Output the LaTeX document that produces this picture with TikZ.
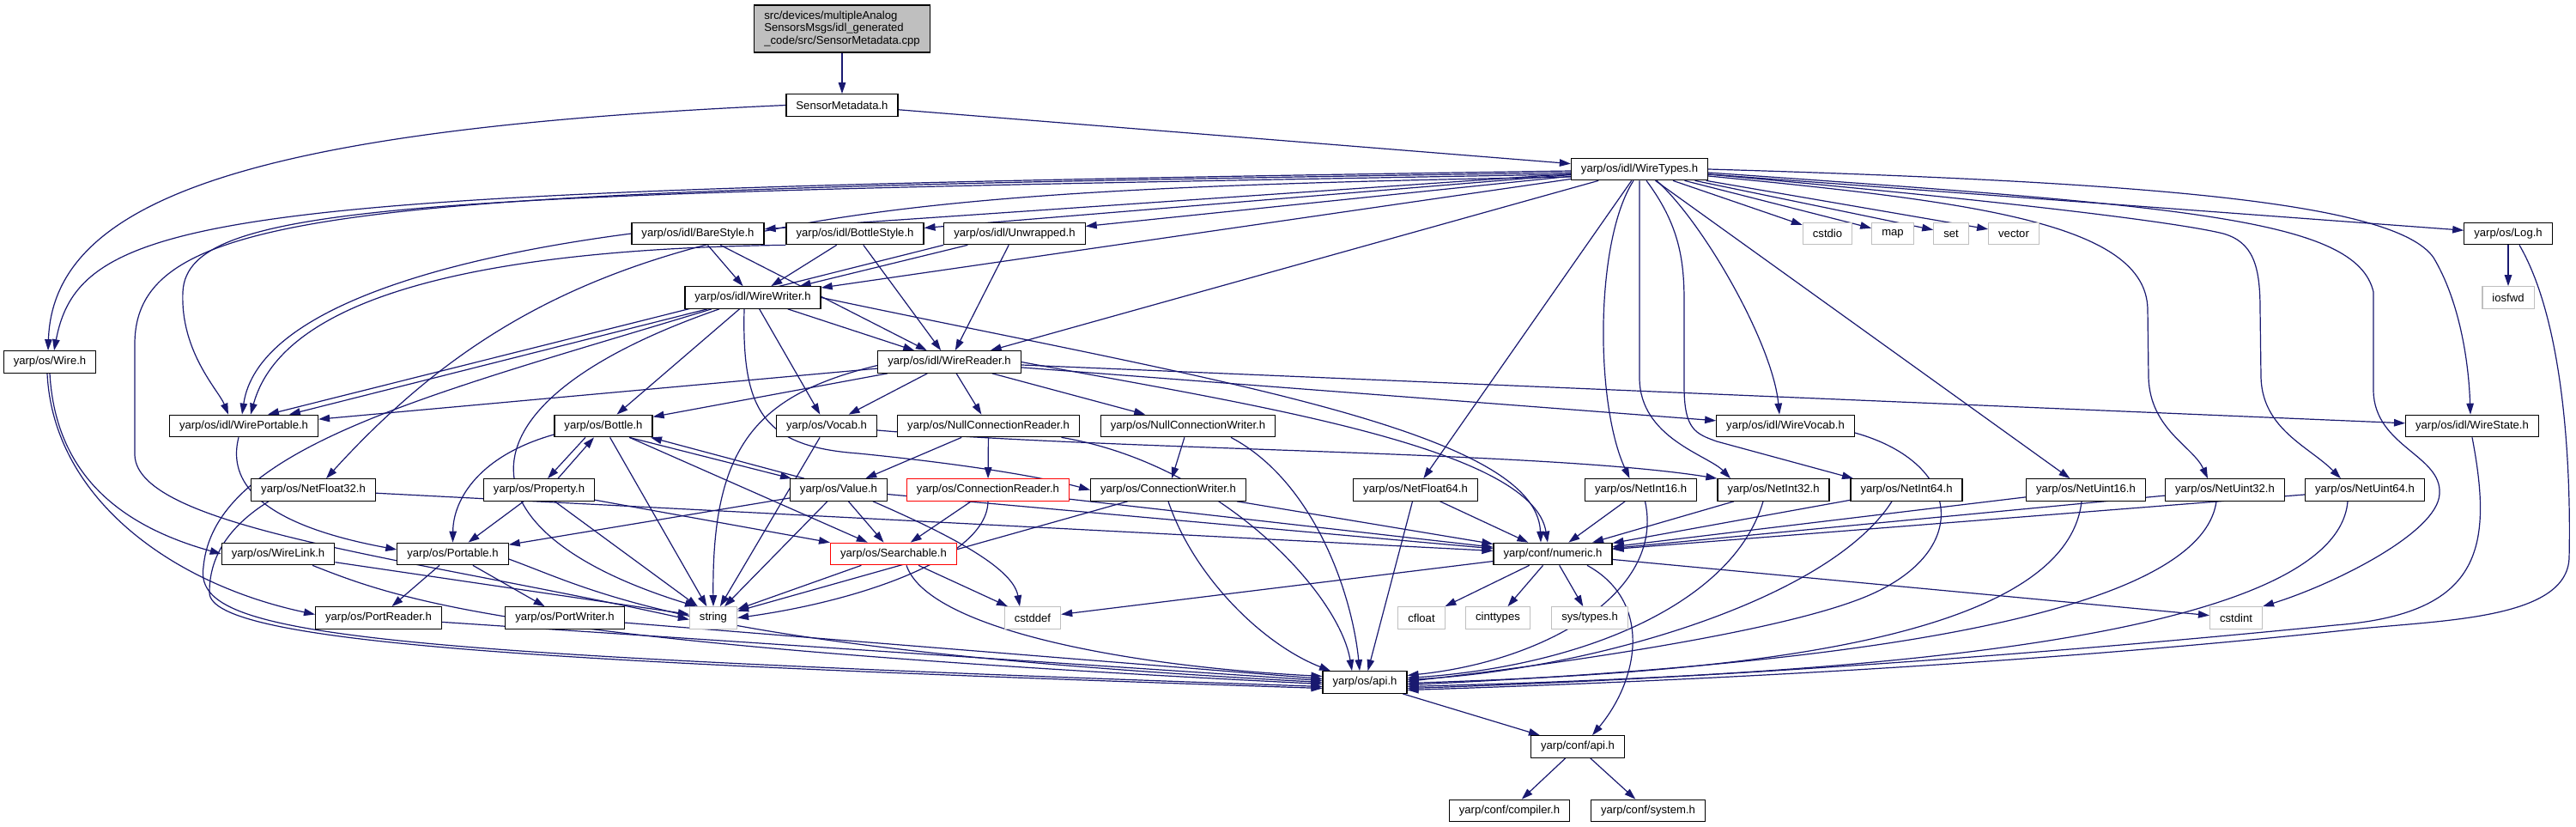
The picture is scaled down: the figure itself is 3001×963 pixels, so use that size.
\documentclass[tikz,border=0pt]{standalone}
\usepackage{fontspec}
\newfontfamily\nodefont{Liberation Sans}
\usetikzlibrary{arrows.meta}
\definecolor{edgecol}{HTML}{191970}
\definecolor{sysgray}{HTML}{BFBFBF}
\definecolor{rootfill}{HTML}{BFBFBF}
\definecolor{redline}{HTML}{FF0000}
\pgfdeclarelayer{back}
\pgfdeclarelayer{edges}
\pgfsetlayers{back,edges,main}
\tikzset{
 box/.style={draw=black, line width=1.2pt, fill=white, minimum height=25.5pt, inner xsep=11.5pt, inner ysep=0pt, font=\nodefont\fontsize{13.1}{14.3}\selectfont, text=black},
 sysbox/.style={box, draw=sysgray},
 redbox/.style={box, draw=redline},
 rootbox/.style={box, fill=rootfill, align=left, minimum height=55pt, inner ysep=4pt},
 dep/.style={draw=edgecol, line width=1.2pt, -{Triangle[length=13pt,width=8.5pt]}},
}
\begin{document}
\begin{tikzpicture}[x=1pt,y=-1pt]
\begin{pgfonlayer}{back}
\fill[white] (0,0) rectangle (3001,963);
\end{pgfonlayer}
\useasboundingbox (0,0) rectangle (3001,963);
% ---------- nodes
\node[rootbox] (root) at (981,33.5) {src/devices/multipleAnalog\\SensorsMsgs/idl\_generated\\\_code/src/SensorMetadata.cpp};
\node[box] (smh) at (981,122.5) {SensorMetadata.h};
\node[box] (wt) at (1910,197) {yarp/os/idl/WireTypes.h};
\node[box] (bare) at (813,272) {yarp/os/idl/BareStyle.h};
\node[box] (bst) at (996,272) {yarp/os/idl/BottleStyle.h};
\node[box] (unwr) at (1182,272) {yarp/os/idl/Unwrapped.h};
\node[sysbox] (cstdio) at (2129,272) {cstdio};
\node[sysbox] (map) at (2205,272) {map};
\node[sysbox] (set) at (2273,272) {set};
\node[sysbox] (vector) at (2346,272) {vector};
\node[box] (log) at (2922,272) {yarp/os/Log.h};
\node[box] (ww) at (877,346.5) {yarp/os/idl/WireWriter.h};
\node[sysbox] (iosfwd) at (2922,346.5) {iosfwd};
\node[box] (wire) at (58,421.5) {yarp/os/Wire.h};
\node[box] (wr) at (1106,421.5) {yarp/os/idl/WireReader.h};
\node[box] (wp) at (284,496) {yarp/os/idl/WirePortable.h};
\node[box] (bottle) at (703,496) {yarp/os/Bottle.h};
\node[box] (vocab) at (963,496) {yarp/os/Vocab.h};
\node[box] (ncr) at (1151.5,496) {yarp/os/NullConnectionReader.h};
\node[box] (ncw) at (1384,496) {yarp/os/NullConnectionWriter.h};
\node[box] (wvocab) at (2080,496) {yarp/os/idl/WireVocab.h};
\node[box] (wstate) at (2880,496) {yarp/os/idl/WireState.h};
\node[box] (nf32) at (365,570.5) {yarp/os/NetFloat32.h};
\node[box] (prop) at (628,570.5) {yarp/os/Property.h};
\node[box] (value) at (977,570.5) {yarp/os/Value.h};
\node[redbox] (cr) at (1151,570.5) {yarp/os/ConnectionReader.h};
\node[box] (cw) at (1361,570.5) {yarp/os/ConnectionWriter.h};
\node[box] (nf64) at (1649,570.5) {yarp/os/NetFloat64.h};
\node[box] (ni16) at (1911.5,570.5) {yarp/os/NetInt16.h};
\node[box] (ni32) at (2066,570.5) {yarp/os/NetInt32.h};
\node[box] (ni64) at (2221,570.5) {yarp/os/NetInt64.h};
\node[box] (nu16) at (2430,570.5) {yarp/os/NetUint16.h};
\node[box] (nu32) at (2592,570.5) {yarp/os/NetUint32.h};
\node[box] (nu64) at (2755,570.5) {yarp/os/NetUint64.h};
\node[box] (wlink) at (324,645) {yarp/os/WireLink.h};
\node[box] (portable) at (527.5,645) {yarp/os/Portable.h};
\node[redbox] (searchable) at (1041,645) {yarp/os/Searchable.h};
\node[box] (numeric) at (1809,645) {yarp/conf/numeric.h};
\node[box] (preader) at (441,719.5) {yarp/os/PortReader.h};
\node[box] (pwriter) at (658,719.5) {yarp/os/PortWriter.h};
\node[sysbox] (string) at (831,719.5) {string};
\node[sysbox] (cstddef) at (1203,719.5) {cstddef};
\node[sysbox] (cfloat) at (1656,719.5) {cfloat};
\node[sysbox] (cinttypes) at (1745,719.5) {cinttypes};
\node[sysbox] (systypes) at (1852,719.5) {sys/types.h};
\node[sysbox] (cstdint) at (2605,719.5) {cstdint};
\node[box] (osapi) at (1590,794.5) {yarp/os/api.h};
\node[box] (confapi) at (1838,869.5) {yarp/conf/api.h};
\node[box] (compiler) at (1758.5,944) {yarp/conf/compiler.h};
\node[box] (system) at (1920,944) {yarp/conf/system.h};
% ---------- edges
\begin{pgfonlayer}{edges}
\draw[dep] (root) -- (smh);
\draw[dep] (smh) -- (wt);
\draw[dep] (smh.west) .. controls (300,150) and (62,230) .. ([xshift=-2]wire.north);
\draw[dep] ([yshift=-2]wt.west) .. controls (280,222) and (95,240) .. ([xshift=5]wire.north);
\draw[dep] ([yshift=-4]wt.west) .. controls (450,222) and (158,232) .. (157,400) -- (157,530) .. controls (160,615) and (480,650) .. ([yshift=-2]string.west);
\draw[dep] ([yshift=-6]wt.west) .. controls (500,226) and (218,232) .. (213,340) .. controls (210,410) and (255,455) .. ([xshift=-18]wp.north);
\draw[dep] ([yshift=-9]wt.west) .. controls (950,222) and (660,250) .. ([xshift=15]nf32.north);
\draw[dep] (wt) -- (bare);
\draw[dep] (wt) -- (bst);
\draw[dep] (wt) -- (unwr);
\draw[dep] (wt) -- (ww);
\draw[dep] (wt) -- (wr);
\draw[dep] (wt) -- (nf64);
\draw[dep] ([xshift=-7]wt.south) .. controls (1858,280) and (1858,470) .. ([xshift=-13]ni16.north);
\draw[dep] (wt.south) -- (1910,440) .. controls (1910,510) and (1990,530) .. ([xshift=-50]ni32.north);
\draw[dep] ([xshift=8]wt.south) .. controls (1955,260) and (1962,300) .. (1962,350) -- (1962,450) .. controls (1962,500) and (1975,505) .. (2000,514) -- ([xshift=-62]ni64.north);
\draw[dep] ([xshift=20]wt.south) .. controls (1985,260) and (2065,400) .. ([xshift=-7]wvocab.north);
\draw[dep] (wt) -- (nu16);
\draw[dep] (wt) -- (cstdio);
\draw[dep] (wt) -- (map);
\draw[dep] (wt) -- (set);
\draw[dep] (wt) -- (vector);
\draw[dep] ([yshift=-8]wt.east) .. controls (2300,235) and (2500,260) .. (2502,360) -- (2503,440) .. controls (2505,500) and (2555,520) .. ([xshift=-20]nu32.north);
\draw[dep] ([yshift=-6]wt.east) .. controls (2400,240) and (2550,262) .. (2590,272) .. controls (2625,282) and (2633,310) .. (2633,360) -- (2634,440) .. controls (2636,500) and (2690,520) .. ([xshift=-28]nu64.north);
\draw[dep] ([yshift=-4]wt.east) .. controls (2550,240) and (2745,255) .. (2765,340) -- (2765,455) .. controls (2766,520) and (2845,530) .. (2842,575) .. controls (2840,620) and (2720,680) .. (cstdint.north east);
\draw[dep] (wt.east) .. controls (2500,212) and (2790,235) .. (2835,300) .. controls (2865,350) and (2876,420) .. ([xshift=-2]wstate.north);
\draw[dep] (wt) -- (log);
\draw[dep] (log) -- (iosfwd);
\draw[dep] ([xshift=13]log.south) .. controls (2990,380) and (2995,560) .. (2993,650) .. controls (2990,720) and (2850,722) .. (2750,732) .. controls (2400,770) and (2000,792) .. ([yshift=-9]osapi.east);
% styles
\draw[dep] (bare) -- (ww);
\draw[dep] (bare) -- (wr);
\draw[dep] (bare.west) .. controls (520,300) and (300,360) .. ([xshift=-2]wp.north);
\draw[dep] (bst) -- (ww);
\draw[dep] (bst) -- (wr);
\draw[dep] (bst.south west) .. controls (560,290) and (330,345) .. ([xshift=8]wp.north);
\draw[dep] (unwr) -- (ww);
\draw[dep] (unwr) -- (wr);
\draw[dep] (unwr.south west) -- ([xshift=28]wp.north);
% WireWriter
\draw[dep] (ww) -- (wr);
\draw[dep] (ww) -- (bottle);
\draw[dep] (ww) -- (vocab);
\draw[dep] (ww) -- (wp);
\draw[dep] ([xshift=-48]ww.south) .. controls (500,460) and (250,520) .. (237,660) .. controls (225,740) and (400,760) .. ([yshift=-5]osapi.west);
\draw[dep] ([xshift=-39]ww.south) .. controls (520,470) and (530,620) .. ([xshift=-20]string.north);
\draw[dep] ([xshift=-10]ww.south) .. controls (864,480) and (890,520) .. (1000,528) .. controls (1100,538) and (1200,552) .. (cw.west);
\draw[dep] (ww.east) .. controls (1400,440) and (1790,500) .. ([xshift=-14]numeric.north);
% WireReader
\draw[dep] (wr) -- (wp);
\draw[dep] (wr) -- (bottle);
\draw[dep] (wr) -- (vocab);
\draw[dep] (wr) -- (ncr);
\draw[dep] (wr) -- (ncw);
\draw[dep] (wr) -- (wvocab);
\draw[dep] (wr) -- (wstate);
\draw[dep] ([yshift=-4]wr.west) .. controls (880,460) and (829,520) .. (string.north);
\draw[dep] (wr.east) .. controls (1450,470) and (1785,520) .. ([xshift=-6]numeric.north);
% Wire, WirePortable
\draw[dep] (wire.south) .. controls (65,560) and (150,615) .. (wlink.west);
\draw[dep] ([xshift=-3]wire.south) .. controls (62,580) and (200,680) .. ([yshift=4]preader.west);
\draw[dep] ([xshift=-6]wp.south) .. controls (265,560) and (300,610) .. ([yshift=5]portable.west);
% Bottle, Property, Value
\draw[dep] ([xshift=-21]bottle.south) -- ([xshift=10]prop.north);
\draw[dep] ([xshift=22]prop.north) -- ([xshift=-11]bottle.south);
\draw[dep] ([xshift=30]bottle.south) -- ([xshift=-55]value.north);
\draw[dep] ([xshift=-40]value.north) -- ([xshift=55]bottle.south);
\draw[dep] ([yshift=-10]bottle.west) .. controls (560,530) and (528,580) .. (portable.north);
\draw[dep] (bottle) -- (string);
\draw[dep] (bottle) -- (searchable);
\draw[dep] (prop) -- (portable);
\draw[dep] (prop) -- (string);
\draw[dep] (prop) -- (searchable);
\draw[dep] (value) -- (portable);
\draw[dep] (value) -- (string);
\draw[dep] (value) -- (searchable);
\draw[dep] (value) -- (numeric);
\draw[dep] ([xshift=40]value.south) .. controls (1100,620) and (1180,660) .. ([xshift=-15]cstddef.north);
% Vocab
\draw[dep] (vocab) -- (string);
\draw[dep] ([yshift=-5]vocab.east) .. controls (1300,525) and (1800,525) .. (ni32.north west);
% Null connections
\draw[dep] (ncr) -- (cr);
\draw[dep] (ncr) -- (value);
\draw[dep] ([xshift=85]ncr.south) .. controls (1420,540) and (1560,690) .. ([xshift=-15]osapi.north);
\draw[dep] (ncw) -- (cw);
\draw[dep] ([xshift=50]ncw.south) .. controls (1530,560) and (1575,690) .. ([xshift=-6]osapi.north);
% Connection reader/writer
\draw[dep] (cr) -- (searchable);
\draw[dep] (cr.south) .. controls (1150,650) and (1000,700) .. (string.east);
\draw[dep] (cr) -- (numeric);
\draw[dep] (cw) -- (string);
\draw[dep] (cw) -- (numeric);
\draw[dep] (cw.south) .. controls (1390,670) and (1470,750) .. ([xshift=-40]osapi.north);
% Searchable
\draw[dep] (searchable) -- (string);
\draw[dep] (searchable) -- (cstddef);
\draw[dep] ([xshift=15]searchable.south) .. controls (1080,730) and (1300,775) .. ([yshift=7]osapi.west);
% Net types
\draw[dep] (nf32) -- (numeric);
\draw[dep] ([xshift=-52]nf32.south) .. controls (255,620) and (244,660) .. (244,690) .. controls (244,750) and (650,772) .. ([yshift=-7]osapi.west);
\draw[dep] (nf64) -- (numeric);
\draw[dep] (nf64) -- (osapi);
\draw[dep] (ni16) -- (numeric);
\draw[dep] ([xshift=5]ni16.south) .. controls (1940,690) and (1800,770) .. ([yshift=8]osapi.east);
\draw[dep] (ni32) -- (numeric);
\draw[dep] ([xshift=-12]ni32.south) .. controls (2020,700) and (1850,775) .. ([yshift=5]osapi.east);
\draw[dep] (ni64) -- (numeric);
\draw[dep] ([xshift=-17]ni64.south) .. controls (2130,700) and (1850,780) .. ([yshift=3]osapi.east);
\draw[dep] (nu16) -- (numeric);
\draw[dep] ([xshift=-5]nu16.south) .. controls (2405,760) and (1950,785) .. ([yshift=-1]osapi.east);
\draw[dep] (nu32) -- (numeric);
\draw[dep] ([xshift=-10]nu32.south) .. controls (2560,740) and (2000,780) .. ([yshift=-3]osapi.east);
\draw[dep] (nu64) -- (numeric);
\draw[dep] ([xshift=-20]nu64.south) .. controls (2720,760) and (2050,788) .. ([yshift=-5]osapi.east);
\draw[dep] ([yshift=-8]wvocab.east) .. controls (2290,540) and (2300,650) .. (2160,700) .. controls (2050,740) and (1800,775) .. ([yshift=1]osapi.east);
\draw[dep] (wstate.south) .. controls (2905,640) and (2890,715) .. (2720,728) .. controls (2400,760) and (2000,790) .. ([yshift=-7]osapi.east);
% WireLink, Portable, ports
\draw[dep] (wlink) -- (string);
\draw[dep] ([xshift=40]wlink.south) .. controls (470,700) and (600,750) .. ([yshift=-2]osapi.west);
\draw[dep] (portable) -- (preader);
\draw[dep] (portable) -- (pwriter);
\draw[dep] ([yshift=-6]portable.east) .. controls (700,690) and (800,755) .. (osapi.west);
\draw[dep] (preader) -- ([yshift=2]osapi.west);
\draw[dep] (pwriter) -- ([yshift=4]osapi.west);
% numeric & api
\draw[dep] (numeric) -- (cstddef);
\draw[dep] (numeric) -- (cfloat);
\draw[dep] (numeric) -- (cinttypes);
\draw[dep] (numeric) -- (systypes);
\draw[dep] (numeric) -- (cstdint);
\draw[dep] ([xshift=40]numeric.south) .. controls (1925,700) and (1910,790) .. ([xshift=17]confapi.north);
\draw[dep] (osapi) -- (confapi);
\draw[dep] (confapi) -- (compiler);
\draw[dep] (confapi) -- (system);
\end{pgfonlayer}
\end{tikzpicture}
\end{document}
